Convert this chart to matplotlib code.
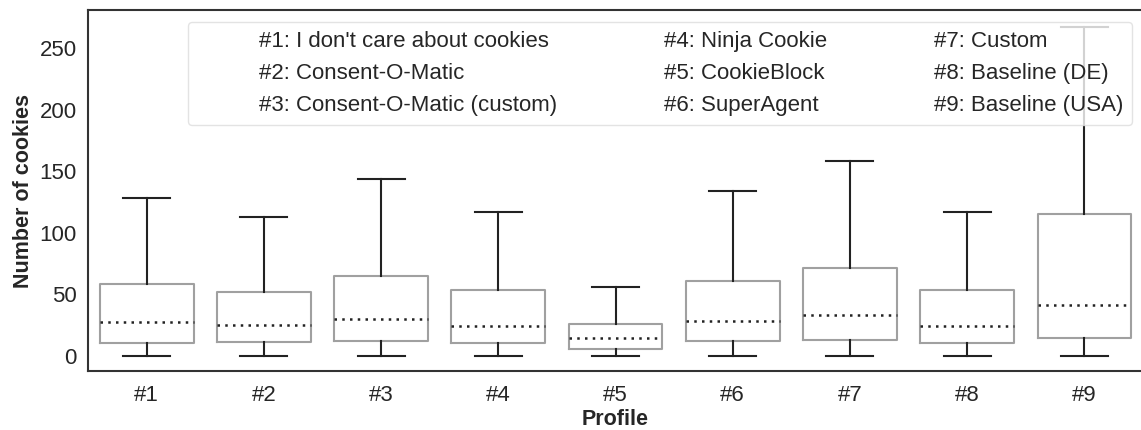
import matplotlib
matplotlib.use('Agg')
import matplotlib.pyplot as plt
from matplotlib.lines import Line2D

plt.rcParams['font.family'] = ['Liberation Sans', 'DejaVu Sans']
plt.rcParams['text.color'] = '#262626'
plt.rcParams['axes.labelcolor'] = '#262626'
plt.rcParams['xtick.color'] = '#262626'
plt.rcParams['ytick.color'] = '#262626'

# Valeurs
profils = ['#1', '#2', '#3', '#4', '#5', '#6', '#7', '#8', '#9']
noms = ["#1: I don't care about cookies", '#2: Consent-O-Matic',
        '#3: Consent-O-Matic (custom)', '#4: Ninja Cookie', '#5: CookieBlock',
        '#6: SuperAgent', '#7: Custom', '#8: Baseline (DE)', '#9: Baseline (USA)']
w_bas = [0, 0, 0, 0, 0, 0, 0, 0, 0]
q1 = [10.5, 11, 12, 10, 5.5, 12, 13, 10, 14]
mediane = [27, 25, 30, 24, 14, 28, 33, 24, 41]
q3 = [58, 52, 65, 53, 26, 61, 71, 53, 115]
w_haut = [128, 113, 144, 117, 56, 134, 158, 117, 267]

stats = []
for i in range(len(profils)):
    stats.append(dict(whislo=w_bas[i], q1=q1[i], med=mediane[i], q3=q3[i],
                      whishi=w_haut[i], label=profils[i]))

fig = plt.figure(figsize=(11.41, 4.3), dpi=100)
ax = fig.add_axes([88/1141, 59/430, (1143-88)/1141, 361/430])

ax.bxp(stats, positions=range(len(profils)), widths=0.8, showfliers=False,
       capwidths=0.4,
       boxprops=dict(color='#a0a0a0', linewidth=1.5),
       whiskerprops=dict(color='#222222', linewidth=1.5),
       capprops=dict(color='#222222', linewidth=1.5),
       medianprops=dict(color='#222222', linewidth=1.8,
                        linestyle=(0, (1, 2.1))))

ax.set_xlim(-0.5, 8.5)
ax.set_ylim(-12.5, 281)
ax.set_yticks([0, 50, 100, 150, 200, 250])
ax.tick_params(labelsize=16, length=0)
ax.tick_params(axis='y', pad=8)
ax.tick_params(axis='x', pad=10)
ax.set_xlabel('Profile', fontsize=15.5, fontweight='bold', labelpad=2)
ax.set_ylabel('Number of cookies', fontsize=15.5, fontweight='bold')
for s in ['left', 'top', 'bottom']:
    ax.spines[s].set_color('#333333')
    ax.spines[s].set_linewidth(1.5)
ax.spines['right'].set_visible(False)

# Legende sans symboles, juste le texte
poignees = [Line2D([], [], linestyle='none') for n in noms]
x_droite = (1132 - 88) / (1143 - 88)
y_haut = (371 - 22) / 361
leg = ax.legend(poignees, noms, ncol=3, loc='upper right',
                bbox_to_anchor=(x_droite, y_haut), borderaxespad=0,
                fontsize=16, handlelength=2.0, columnspacing=2.0,
                labelspacing=0.5, edgecolor='#dddddd', framealpha=0.8)

fig.savefig('out.png', dpi=100)
